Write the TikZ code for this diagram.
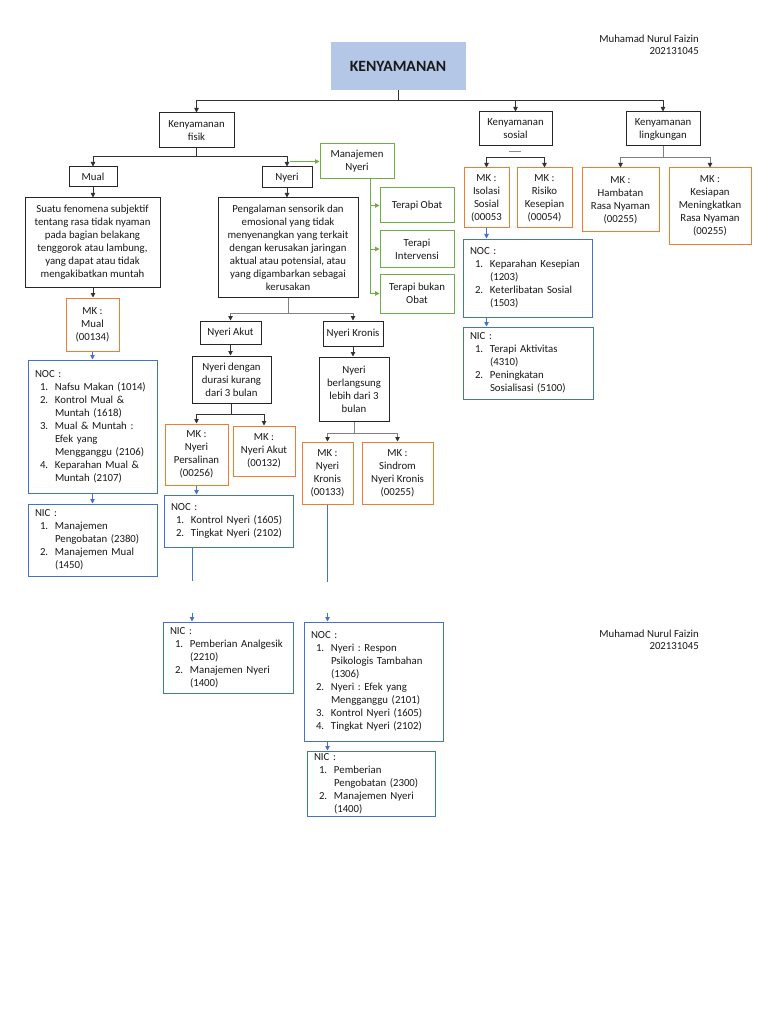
\documentclass[tikz,border=0pt]{standalone}
\usepackage{fontspec}
\setmainfont{Carlito}
\usetikzlibrary{arrows.meta,calc}
\definecolor{borg}{RGB}{237,125,49}
\definecolor{bblu}{RGB}{68,114,196}
\definecolor{bgrn}{RGB}{112,173,71}
\definecolor{tfill}{RGB}{180,199,231}
\definecolor{lnc}{RGB}{50,50,50}
\frenchspacing
\newcommand\bx[7]{%
 \pgfmathsetmacro\bxw{#5-#3}\pgfmathsetmacro\bxh{#6-#4}%
 \pgfmathsetmacro\bxx{(#3+#5)/2}\pgfmathsetmacro\bxy{(#4+#6)/2}%
 \node[#2, minimum width=\bxw pt, minimum height=\bxh pt] (#1) at (\bxx,\bxy) {#7};}
\newcommand\lbx[7]{%
 \pgfmathsetmacro\bxw{#5-#3}\pgfmathsetmacro\bxh{#6-#4}\pgfmathsetmacro\bxt{#5-#3-14}%
 \pgfmathsetmacro\bxx{(#3+#5)/2}\pgfmathsetmacro\bxy{(#4+#6)/2}%
 \node[#2, align=left, inner xsep=7pt, text width=\bxt pt, minimum height=\bxh pt] (#1) at (\bxx,\bxy) {#7};}
\newcommand\litem[2]{\hspace*{5pt}\makebox[15pt][l]{#1}#2}
\newcommand\lcont[1]{\hspace*{20pt}#1}
\tikzset{
 base/.style={font=\fontsize{10.8}{13}\selectfont, inner sep=0pt, align=center, line width=1pt, text=black!90},
 blk/.style={base, draw=black!85},
 org/.style={base, draw=borg},
 blu/.style={base, draw=bblu},
 grn/.style={base, draw=bgrn},
 ttl/.style={base, fill=tfill, draw=tfill, font=\fontsize{15.7}{18}\selectfont\bfseries},
 auth/.style={font=\fontsize{10.8}{11.7}\selectfont, inner sep=0pt, align=right, text=black!90},
 tip/.style={-{Triangle[length=4.5pt,width=4.5pt,color=#1]}},
 arr/.style={color=lnc, line width=0.9pt, tip=lnc},
 grarr/.style={color=black!50, line width=0.9pt, tip=lnc},
 barr/.style={color=bblu, line width=0.9pt, tip=bblu},
 bline/.style={color=bblu, line width=0.9pt},
 garr/.style={color=bgrn, line width=0.9pt, tip=bgrn},
}
\begin{document}
\begin{tikzpicture}[x=1pt,y=-1pt]
\useasboundingbox (0,0) rectangle (768,1024);
\fill[white] (0,0) rectangle (768,1024);

\node[auth, anchor=north east] (auth1) at (699,35) {Muhamad Nurul Faizin\\202131045};
\node[auth, anchor=north east] (auth2) at (699,630) {Muhamad Nurul Faizin\\202131045};

\bx{title}{ttl}{331}{43}{465}{90}{KENYAMANAN}
\bx{fisik}{blk}{159}{113}{234}{148}{Kenyamanan\\fisik}
\bx{sosial}{blk}{479}{112}{552}{146}{Kenyamanan\\sosial}
\bx{ling}{blk}{626}{112}{700}{146}{Kenyamanan\\lingkungan}
\bx{mual}{blk}{69}{167}{117}{187}{Mual}
\bx{nyeri}{blk}{262}{167}{312}{188}{Nyeri}
\bx{manaj}{grn}{320}{144}{394}{179}{Manajemen\\Nyeri}
\bx{tobat}{grn}{380}{188}{454}{223}{Terapi Obat}
\bx{tint}{grn}{380}{231}{454}{267}{Terapi\\Intervensi}
\bx{tbukan}{grn}{380}{274}{454}{313}{Terapi bukan\\Obat}
\bx{mualdesc}{blk}{25}{198}{160}{287}{Suatu fenomena subjektif\\tentang rasa tidak nyaman\\pada bagian belakang\\tenggorok atau lambung,\\yang dapat atau tidak\\mengakibatkan muntah}
\bx{mkmual}{org}{66}{298}{119}{351}{MK :\\Mual\\(00134)}
\bx{nyeridesc}{blk}{218}{198}{358}{297}{Pengalaman sensorik dan\\emosional yang tidak\\menyenangkan yang terkait\\dengan kerusakan jaringan\\aktual atau potensial, atau\\yang digambarkan sebagai\\kerusakan}
\bx{akut}{blk}{200}{321}{261}{344}{Nyeri Akut}
\bx{kronis}{blk}{323}{321}{383}{346}{Nyeri Kronis}
\bx{durasi}{blk}{192}{356}{271}{403}{Nyeri dengan\\durasi kurang\\dari 3 bulan}
\bx{berl}{blk}{319}{357}{389}{421}{Nyeri\\berlangsung\\lebih dari 3\\bulan}
\bx{persal}{org}{165}{424}{228}{485}{MK :\\Nyeri\\Persalinan\\(00256)}
\bx{mkakut}{org}{233}{426}{295}{476}{MK :\\Nyeri Akut\\(00132)}
\bx{mkkron}{org}{302}{442}{353}{504}{MK :\\Nyeri\\Kronis\\(00133)}
\bx{sindrom}{org}{362}{442}{433}{504}{MK :\\Sindrom\\Nyeri Kronis\\(00255)}
\bx{isolasi}{org}{464}{168}{509}{228}{MK :\\Isolasi\\Sosial\\(00053}
\bx{risiko}{org}{517}{168}{572}{228}{MK :\\Risiko\\Kesepian\\(00054)}
\bx{hambat}{org}{582}{168}{659}{232}{MK :\\Hambatan\\Rasa Nyaman\\(00255)}
\bx{kesiap}{org}{669}{168}{751}{244}{MK :\\Kesiapan\\Meningkatkan\\Rasa Nyaman\\(00255)}

\lbx{nocs}{blu}{463}{239}{592}{317}{NOC :\\\litem{1.}{Keparahan Kesepian}\\\lcont{(1203)}\\\litem{2.}{Keterlibatan Sosial}\\\lcont{(1503)}}
\lbx{nics}{blu}{463}{327}{593}{399}{NIC :\\\litem{1.}{Terapi Aktivitas}\\\lcont{(4310)}\\\litem{2.}{Peningkatan}\\\lcont{Sosialisasi (5100)}}
\lbx{nocm}{blu}{28}{360}{157}{493}{NOC :\\\litem{1.}{Nafsu Makan (1014)}\\\litem{2.}{Kontrol Mual \&}\\\lcont{Muntah (1618)}\\\litem{3.}{Mual \& Muntah :}\\\lcont{Efek yang}\\\lcont{Mengganggu (2106)}\\\litem{4.}{Keparahan Mual \&}\\\lcont{Muntah (2107)}}
\lbx{nicm}{blu}{28}{504}{157}{576}{NIC :\\\litem{1.}{Manajemen}\\\lcont{Pengobatan (2380)}\\\litem{2.}{Manajemen Mual}\\\lcont{(1450)}}
\lbx{nocp}{blu}{164}{495}{293}{547}{NOC :\\\litem{1.}{Kontrol Nyeri (1605)}\\\litem{2.}{Tingkat Nyeri (2102)}}
\lbx{nicp}{blu}{163}{622}{293}{693}{NIC :\\\litem{1.}{Pemberian Analgesik}\\\lcont{(2210)}\\\litem{2.}{Manajemen Nyeri}\\\lcont{(1400)}}
\lbx{nock}{blu}{304}{622}{443}{741}{NOC :\\\litem{1.}{Nyeri : Respon}\\\lcont{Psikologis Tambahan}\\\lcont{(1306)}\\\litem{2.}{Nyeri : Efek yang}\\\lcont{Mengganggu (2101)}\\\litem{3.}{Kontrol Nyeri (1605)}\\\litem{4.}{Tingkat Nyeri (2102)}}
\lbx{nick}{blu}{307}{751}{435}{816}{NIC :\\\litem{1.}{Pemberian}\\\lcont{Pengobatan (2300)}\\\litem{2.}{Manajemen Nyeri}\\\lcont{(1400)}}

% top level
\draw[arr] (title.south) -- ++(0,10) -| (fisik.north);
\draw[arr] (title.south) -- ++(0,10) -| (sosial.north);
\draw[arr] (title.south) -- ++(0,10) -| (ling.north);
% fisik
\draw[arr] (fisik.south) -- ++(0,8) -| (mual.north);
\draw[arr] (fisik.south) -- ++(0,8) -| (nyeri.north);
\coordinate (gs) at (290,161.5);
\draw[garr] (gs) -- (manaj.west);
\coordinate (gv) at (370,179);
\draw[garr] (gv) |- (tobat.west);
\draw[garr] (gv) |- (tint.west);
\draw[garr] (gv) |- (tbukan.west);
% mual
\draw[arr] (mual.south) -- (mual.south |- mualdesc.north);
\draw[arr] (mual.south |- mualdesc.south) -- (mual.south |- mkmual.north);
\draw[barr] (mkmual.south) -- (mkmual.south |- nocm.north);
\draw[barr] (mkmual.south |- nocm.south) -- (mkmual.south |- nicm.north);
% nyeri
\draw[arr] (nyeri.south) -- (nyeri.south |- nyeridesc.north);
\draw[grarr] (nyeridesc.south) -- ++(0,16) -| (akut.north);
\draw[grarr] (nyeridesc.south) -- ++(0,16) -| (kronis.north);
\draw[arr] (akut.south) -- (akut.south |- durasi.north);
\draw[arr] (kronis.south) -- (kronis.south |- berl.north);
\draw[arr] (durasi.south) -- ++(0,11) -| (persal.north);
\draw[arr] (durasi.south) -- ++(0,11) -| (mkakut.north);
\draw[grarr] (berl.south) -- ++(0,12) -| (mkkron.north);
\draw[grarr] (berl.south) -- ++(0,12) -| (sindrom.north);
\draw[barr] (persal.south) -- (persal.south |- nocp.north);
\coordinate (pe) at (192,581);
\draw[bline] (nocp.south -| pe) -- (pe);
\coordinate (pa) at (192,613);
\draw[barr] (pa) -- (pa |- nicp.north);
\coordinate (ke) at (327.5,582);
\draw[bline] (mkkron.south) -- (ke);
\coordinate (ka) at (327.5,613);
\draw[barr] (ka) -- (ka |- nock.north);
\draw[barr] (nock.south -| ka) -- (ka |- nick.north);
% sosial
\coordinate (sb) at (515.5,157);
\draw[black!45, line width=0.8pt] (509,151) -- (521,151);
\draw[arr] (sb) -| (isolasi.north);
\draw[arr] (sb) -| (risiko.north);
\draw[barr] (isolasi.south) -- (isolasi.south |- nocs.north);
\draw[barr] (isolasi.south |- nocs.south) -- (isolasi.south |- nics.north);
% lingkungan
\draw[grarr] (ling.south) -- ++(0,11) -| (hambat.north);
\draw[grarr] (ling.south) -- ++(0,11) -| (kesiap.north);
\end{tikzpicture}
\end{document}
